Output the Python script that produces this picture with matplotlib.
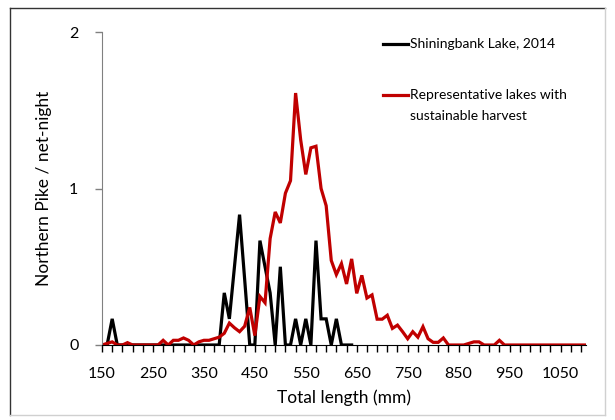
import numpy as np
import matplotlib

matplotlib.use('Agg')
import matplotlib.pyplot as plt
from matplotlib.lines import Line2D

plt.rcParams['font.family'] = ['Lato', 'DejaVu Sans']

# fish length bins (mm), 10 mm steps
bins_red = np.arange(150, 1101, 10)
bins_black = np.arange(150, 641, 10)

# Shiningbank Lake, 2014 (fish per net-night)
shiningbank = [0, 0, 0.167, 0, 0, 0, 0, 0, 0, 0,
               0, 0, 0, 0, 0, 0, 0, 0, 0, 0,
               0, 0, 0, 0, 0.333, 0.167, 0.5, 0.833, 0.42, 0,
               0, 0.667, 0.5, 0.333, 0, 0.5, 0, 0, 0.167, 0,
               0.167, 0, 0.667, 0.167, 0.167, 0, 0.167, 0, 0, 0]

# representative lakes with sustainable harvest
representative = [0, 0.01, 0.02, 0, 0, 0.015, 0, 0, 0, 0,
                  0, 0, 0.03, 0, 0.03, 0.03, 0.045, 0.03, 0, 0.02,
                  0.03, 0.03, 0.04, 0.05, 0.075, 0.14, 0.11, 0.085, 0.12, 0.24,
                  0.06, 0.31, 0.27, 0.68, 0.85, 0.78, 0.97, 1.05, 1.61, 1.31,
                  1.09, 1.26, 1.27, 1.0, 0.89, 0.54, 0.45, 0.52, 0.39, 0.55,
                  0.33, 0.445, 0.30, 0.32, 0.165, 0.165, 0.19, 0.106, 0.127, 0.085,
                  0.04, 0.085, 0.05, 0.117, 0.04, 0.017, 0.017, 0.045, 0, 0,
                  0, 0, 0.01, 0.02, 0.02, 0, 0, 0, 0.03, 0,
                  0, 0, 0, 0, 0, 0, 0, 0, 0, 0,
                  0, 0, 0, 0, 0, 0]

x_labels = ['150', '250', '350', '450', '550', '650', '750', '850', '950', '1050']
y_ticks = [0, 1, 2]

W, H = 615, 420
fig = plt.figure(figsize=(W / 100, H / 100), dpi=100)
ax = fig.add_axes([102 / W, 1 - 345 / H, (586 - 102) / W, (345 - 32) / H])

ax.plot(bins_black, shiningbank, color='black', lw=2.3, solid_joinstyle='miter')
ax.plot(bins_red, representative, color='#C00000', lw=2.3, solid_joinstyle='miter')

ax.set_xlim(150, 1100)
ax.set_ylim(0, 2)

xt = np.arange(150, 1091, 20)
ax.set_xticks(xt)
ax.set_xticklabels([str(v) if str(v) in x_labels else '' for v in xt])
ax.set_yticks(y_ticks)
ax.set_yticklabels([str(v) for v in y_ticks])
ax.tick_params(axis='x', direction='out', length=5, width=1, color='black',
               labelsize=11.5, pad=11)
ax.tick_params(axis='y', direction='out', length=5, width=1, color='#808080',
               labelsize=11.5, pad=12)

for s in ['top', 'right']:
    ax.spines[s].set_visible(False)
ax.spines['left'].set_color('#808080')
ax.spines['bottom'].set_color('black')

ax.set_xlabel('Total length (mm)', fontsize=12.5, labelpad=6)
ax.set_ylabel('Northern Pike / net-night', fontsize=12.5, labelpad=12)

# legend drawn by hand, handle beside the first line of each label
def fx(p):
    return p / W

def fy(p):
    return 1 - p / H

fig.add_artist(Line2D([fx(383), fx(408)], [fy(44), fy(44)], color='black', lw=2.3))
fig.text(fx(410), fy(44), 'Shiningbank Lake, 2014', fontsize=10, va='center')
fig.add_artist(Line2D([fx(383), fx(408)], [fy(95), fy(95)], color='#C00000', lw=2.3))
fig.text(fx(410), fy(95), 'Representative lakes with', fontsize=10, va='center')
fig.text(fx(410), fy(116), 'sustainable harvest', fontsize=10, va='center')

# chart area border
fig.add_artist(Line2D([fx(10), fx(605)], [fy(8), fy(8)], color='#333333', lw=1))
fig.add_artist(Line2D([fx(10), fx(10)], [fy(8), fy(415)], color='#333333', lw=1))
fig.add_artist(Line2D([fx(605), fx(605)], [fy(8), fy(415)], color='#d0d0d0', lw=1))
fig.add_artist(Line2D([fx(10), fx(605)], [fy(415), fy(415)], color='#d0d0d0', lw=1))

fig.savefig('out.png', dpi=100)
